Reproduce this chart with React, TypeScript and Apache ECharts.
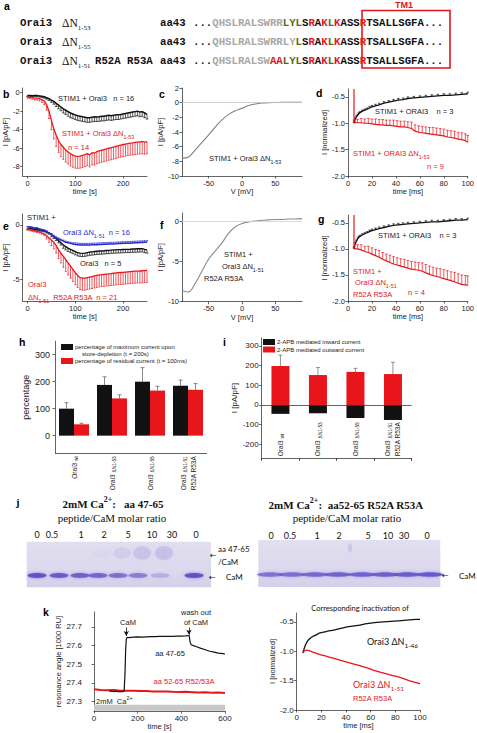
import React, { useEffect, useRef } from 'react';
import * as echarts from 'echarts';

// ---------------- DATA ----------------
// panel a: sequences (text, colour key)
const seqRow1 = [['...', 'k'], ['QHSLRALSWRR', 'g'], ['LYL', 'o'], ['S', 'k'], ['R', 'r'], ['A', 'k'], ['K', 'r'], ['L', 'o'], ['K', 'r'], ['ASS', 'k'], ['R', 'r'], ['TSALLSGFA...', 'k']];
const seqRow2 = [['...', 'k'], ['QHSLRALSWRRLY', 'g'], ['L', 'o'], ['S', 'k'], ['R', 'r'], ['A', 'k'], ['K', 'r'], ['L', 'o'], ['K', 'r'], ['ASS', 'k'], ['R', 'r'], ['TSALLSGFA...', 'k']];
const seqRow3 = [['...', 'k'], ['QHSLRALSW', 'g'], ['AA', 'r'], ['LYL', 'o'], ['S', 'k'], ['R', 'r'], ['A', 'k'], ['K', 'r'], ['L', 'o'], ['K', 'r'], ['ASS', 'k'], ['R', 'r'], ['TSALLSGFA...', 'k']];

// panel b / e: time course (s)
const bTime = [0, 5, 10, 15, 20, 25, 30, 35, 40, 45, 50, 55, 60, 65, 70, 75, 80, 85, 90, 95, 100, 105, 110, 115, 120, 125, 130, 135, 140, 145, 150, 155, 160, 165, 170, 175, 180, 185, 190, 195, 200, 205, 210, 215, 220, 225, 230, 235, 240, 245, 250];
const bOrai3 = [-0.30, -0.30, -0.33, -0.30, -0.32, -0.35, -0.40, -0.45, -0.55, -0.65, -0.80, -0.95, -1.15, -1.35, -1.55, -1.75, -1.90, -2.05, -2.20, -2.30, -2.40, -2.50, -2.55, -2.60, -2.65, -2.70, -2.70, -2.65, -2.60, -2.62, -2.60, -2.55, -2.55, -2.50, -2.45, -2.50, -2.45, -2.40, -2.40, -2.35, -2.30, -2.25, -2.20, -2.15, -2.10, -2.05, -2.00, -2.10, -2.05, -2.20, -2.35];
const bOrai3Err = [0.10, 0.10, 0.10, 0.10, 0.10, 0.12, 0.12, 0.15, 0.15, 0.20, 0.25, 0.30, 0.35, 0.40, 0.40, 0.45, 0.45, 0.50, 0.50, 0.50, 0.50, 0.50, 0.50, 0.50, 0.50, 0.50, 0.50, 0.50, 0.50, 0.50, 0.50, 0.50, 0.50, 0.50, 0.50, 0.50, 0.50, 0.50, 0.50, 0.50, 0.50, 0.50, 0.50, 0.50, 0.50, 0.50, 0.50, 0.50, 0.50, 0.50, 0.50];
const bDN53 = [-0.45, -0.50, -0.55, -0.60, -0.60, -0.65, -0.75, -0.90, -1.30, -2.00, -3.00, -3.90, -4.60, -5.20, -5.60, -5.90, -6.20, -6.40, -6.60, -6.75, -6.85, -6.88, -6.85, -6.78, -6.68, -6.58, -6.72, -6.48, -6.52, -6.38, -6.30, -6.22, -6.15, -6.08, -6.00, -5.95, -5.88, -5.80, -5.72, -5.66, -5.60, -5.55, -5.50, -5.45, -5.42, -5.38, -5.35, -5.32, -5.30, -5.35, -5.30];
const bDN53Err = [0.15, 0.15, 0.18, 0.20, 0.20, 0.25, 0.30, 0.40, 0.60, 0.80, 1.00, 1.10, 1.20, 1.25, 1.30, 1.30, 1.30, 1.30, 1.30, 1.30, 1.30, 1.30, 1.30, 1.30, 1.30, 1.30, 1.30, 1.30, 1.30, 1.30, 1.30, 1.30, 1.30, 1.30, 1.30, 1.30, 1.30, 1.30, 1.30, 1.30, 1.30, 1.30, 1.30, 1.30, 1.30, 1.30, 1.30, 1.30, 1.30, 1.30, 1.30];

const eDN51 = [-0.20, -0.20, -0.25, -0.30, -0.30, -0.40, -0.45, -0.50, -0.60, -0.75, -0.90, -1.05, -1.20, -1.30, -1.40, -1.50, -1.60, -1.65, -1.70, -1.75, -1.80, -1.82, -1.85, -1.85, -1.85, -1.85, -1.84, -1.83, -1.82, -1.82, -1.80, -1.80, -1.78, -1.78, -1.76, -1.75, -1.75, -1.74, -1.72, -1.72, -1.70, -1.70, -1.68, -1.68, -1.66, -1.65, -1.64, -1.63, -1.62, -1.60, -1.60];
const eDN51Err = [0.05, 0.05, 0.05, 0.05, 0.05, 0.05, 0.05, 0.05, 0.05, 0.05, 0.10, 0.10, 0.10, 0.10, 0.10, 0.10, 0.10, 0.10, 0.10, 0.10, 0.15, 0.15, 0.15, 0.15, 0.15, 0.15, 0.15, 0.15, 0.15, 0.15, 0.15, 0.15, 0.15, 0.15, 0.15, 0.15, 0.15, 0.15, 0.15, 0.15, 0.15, 0.15, 0.15, 0.15, 0.15, 0.15, 0.15, 0.15, 0.15, 0.15, 0.15];
const eOrai3 = [-0.30, -0.30, -0.35, -0.40, -0.40, -0.45, -0.50, -0.55, -0.65, -0.75, -0.90, -1.05, -1.25, -1.45, -1.65, -1.85, -2.00, -2.15, -2.25, -2.35, -2.45, -2.55, -2.60, -2.62, -2.60, -2.55, -2.50, -2.48, -2.45, -2.42, -2.40, -2.40, -2.38, -2.35, -2.35, -2.32, -2.30, -2.30, -2.28, -2.28, -2.26, -2.25, -2.25, -2.24, -2.22, -2.22, -2.20, -2.20, -2.18, -2.25, -2.30];
const eOrai3Err = [0.10, 0.10, 0.10, 0.10, 0.10, 0.10, 0.10, 0.10, 0.10, 0.10, 0.20, 0.20, 0.20, 0.20, 0.20, 0.30, 0.30, 0.30, 0.30, 0.30, 0.30, 0.30, 0.30, 0.30, 0.30, 0.30, 0.30, 0.30, 0.30, 0.30, 0.30, 0.30, 0.30, 0.30, 0.30, 0.30, 0.30, 0.30, 0.30, 0.30, 0.30, 0.30, 0.30, 0.30, 0.30, 0.30, 0.30, 0.30, 0.30, 0.30, 0.30];
const eMut = [-0.40, -0.45, -0.50, -0.55, -0.60, -0.65, -0.75, -0.85, -1.00, -1.20, -1.40, -1.60, -1.90, -2.30, -2.60, -2.90, -3.20, -3.50, -3.80, -4.10, -4.40, -4.65, -4.85, -4.90, -4.90, -4.85, -4.80, -4.75, -4.70, -4.65, -4.60, -4.58, -4.55, -4.52, -4.50, -4.48, -4.45, -4.42, -4.40, -4.38, -4.36, -4.34, -4.32, -4.30, -4.28, -4.26, -4.25, -4.24, -4.22, -4.20, -4.18];
const eMutErr = [0.10, 0.10, 0.10, 0.10, 0.10, 0.10, 0.10, 0.10, 0.30, 0.40, 0.50, 0.60, 0.70, 0.80, 0.90, 1.00, 1.10, 1.10, 1.10, 1.10, 1.10, 1.10, 1.10, 1.10, 1.10, 1.10, 1.10, 1.10, 1.10, 1.10, 1.10, 1.10, 1.10, 1.10, 1.10, 1.10, 1.10, 1.10, 1.10, 1.10, 1.10, 1.10, 1.10, 1.10, 1.10, 1.10, 1.10, 1.10, 1.10, 1.10, 1.10];

// panel c / f: I-V (mV)
const ivVolt = [-90, -80, -70, -60, -50, -40, -30, -20, -10, 0, 10, 20, 30, 40, 50, 60, 70, 80, 90];
const cCurrent = [-7.6, -7.4, -6.45, -5.4, -4.4, -3.3, -2.35, -1.6, -1.1, -0.77, -0.4, -0.18, -0.05, 0, 0.02, 0.05, 0.05, 0.05, 0.05];
const fCurrent = [-8.6, -8.8, -7.7, -6.2, -4.7, -3.7, -2.7, -1.5, -0.7, -0.3, -0.1, 0, 0.1, 0.15, 0.2, 0.2, 0.25, 0.25, 0.3];

// panel d / g: inactivation (ms)
const inactTimeWt = [5, 6, 7, 8, 9, 10, 12, 14, 16, 18, 20, 23, 26, 30, 34, 38, 42, 46, 50, 55, 60, 65, 70, 75, 80, 85, 90, 95, 100];
const dWt = [-1.00, -0.92, -0.88, -0.85, -0.82, -0.80, -0.77, -0.75, -0.73, -0.71, -0.69, -0.67, -0.65, -0.62, -0.60, -0.58, -0.56, -0.55, -0.53, -0.52, -0.51, -0.50, -0.49, -0.48, -0.47, -0.47, -0.46, -0.45, -0.44];
const gWt = [-1.00, -0.90, -0.85, -0.81, -0.78, -0.76, -0.73, -0.71, -0.69, -0.67, -0.65, -0.63, -0.61, -0.59, -0.57, -0.55, -0.54, -0.53, -0.52, -0.51, -0.50, -0.49, -0.48, -0.48, -0.47, -0.46, -0.45, -0.45, -0.44];
const wtErr = [0.02, 0.02, 0.02, 0.02, 0.02, 0.02, 0.02, 0.02, 0.02, 0.03, 0.03, 0.03, 0.03, 0.03, 0.03, 0.03, 0.03, 0.03, 0.03, 0.03, 0.03, 0.03, 0.03, 0.03, 0.03, 0.03, 0.03, 0.03, 0.03];
const inactTimeMut = [5, 8, 11, 14, 17, 20, 23, 26, 29, 32, 35, 38, 41, 44, 47, 50, 53, 56, 59, 62, 65, 68, 71, 74, 77, 80, 83, 86, 89, 92, 95, 98, 100];
const dDN53 = [-0.98, -0.99, -0.99, -1.00, -1.00, -1.01, -1.02, -1.03, -1.03, -1.04, -1.04, -1.05, -1.06, -1.07, -1.07, -1.08, -1.10, -1.15, -1.17, -1.18, -1.19, -1.20, -1.21, -1.22, -1.23, -1.24, -1.26, -1.27, -1.28, -1.30, -1.31, -1.33, -1.36];
const dDN53Err = [0.04, 0.06, 0.08, 0.08, 0.09, 0.09, 0.10, 0.10, 0.10, 0.10, 0.10, 0.11, 0.11, 0.11, 0.11, 0.11, 0.12, 0.12, 0.12, 0.12, 0.12, 0.12, 0.13, 0.13, 0.13, 0.13, 0.13, 0.13, 0.13, 0.13, 0.13, 0.13, 0.13];
const gMut = [-1.00, -1.00, -1.02, -1.05, -1.07, -1.10, -1.13, -1.16, -1.20, -1.23, -1.26, -1.29, -1.31, -1.33, -1.35, -1.37, -1.39, -1.40, -1.41, -1.43, -1.46, -1.49, -1.51, -1.53, -1.55, -1.57, -1.59, -1.61, -1.63, -1.66, -1.68, -1.69, -1.70];
const gMutErr = [0.04, 0.08, 0.10, 0.10, 0.12, 0.12, 0.12, 0.13, 0.13, 0.13, 0.14, 0.14, 0.14, 0.14, 0.15, 0.15, 0.15, 0.15, 0.15, 0.16, 0.16, 0.16, 0.16, 0.16, 0.17, 0.17, 0.17, 0.17, 0.18, 0.18, 0.18, 0.18, 0.18];

// panel h
const hGroups = ['Orai3 wt', 'Orai3 ΔN1-53', 'Orai3 ΔN1-55', 'Orai3 ΔN1-51 R52A R53A'];
const hMaxCurrent = [100, 188, 200, 185];
const hMaxCurrentErr = [22, 30, 52, 21];
const hResidual = [42, 138, 167, 170];
const hResidualErr = [4, 13, 16, 23];

// panel i
const iGroups = ['Orai3 wt', 'Orai3 ΔN1-53', 'Orai3 ΔN1-55', 'Orai3 ΔN1-51 R52A R53A'];
const iInward = [-45, -42, -66, -76];
const iOutward = [198, 152, 168, 157];
const iOutwardErr = [55, 38, 18, 60];

// panel j: gels
const molarRatios = ['0', '0.5', '1', '2', '5', '10', '30', '0'];
const gelLeftCaM = [1.0, 0.9, 0.85, 0.8, 0.72, 0.62, 0.28, 1.0];
const gelLeftComplex = [0, 0, 0, 0.1, 0.3, 0.45, 0.5, 0];
const gelRightCaM = [0.75, 0.8, 0.85, 0.9, 0.9, 0.92, 0.95, 1.0];

// panel k left: SPR
const sprTimeA = [70, 80, 90, 100, 110, 120, 130, 138, 142, 145, 148, 152, 160, 180, 200, 220, 240, 260, 280, 300, 320, 340, 360, 380, 400, 420, 430, 436, 440, 445, 455, 470, 490, 510, 530, 550, 570, 590, 600];
const sprA4765 = [27.355, 27.357, 27.354, 27.356, 27.353, 27.355, 27.354, 27.356, 27.45, 27.58, 27.635, 27.645, 27.643, 27.645, 27.647, 27.646, 27.647, 27.648, 27.648, 27.649, 27.649, 27.650, 27.650, 27.651, 27.651, 27.652, 27.653, 27.654, 27.62, 27.605, 27.600, 27.594, 27.585, 27.578, 27.570, 27.565, 27.560, 27.557, 27.555];
const sprTimeB = [0, 30, 60, 90, 120, 150, 180, 210, 240, 270, 300, 330, 360, 390, 420, 450, 480, 510, 540, 570, 600];
const sprA5265 = [27.366, 27.363, 27.361, 27.362, 27.359, 27.358, 27.359, 27.357, 27.357, 27.355, 27.354, 27.355, 27.353, 27.352, 27.353, 27.351, 27.349, 27.350, 27.348, 27.349, 27.347];

// panel k right
const kTimeWt = [5, 7, 9, 11, 13, 15, 19, 25, 30, 40, 50, 57, 70, 85, 97, 100];
const kDN46 = [-1.03, -0.90, -0.82, -0.78, -0.75, -0.73, -0.69, -0.66, -0.64, -0.59, -0.56, -0.53, -0.50, -0.48, -0.46, -0.46];
const kTimeMut = [5, 6, 8, 10, 15, 19, 25, 35, 45, 55, 62, 70, 81, 90, 100];
const kDN51 = [-1.03, -1.0, -0.98, -0.99, -1.03, -1.06, -1.09, -1.15, -1.21, -1.27, -1.32, -1.37, -1.43, -1.49, -1.55];

// ---------------- STYLE ----------------
const SANS = 'Liberation Sans, Arial, sans-serif';
const SERIF = 'Liberation Serif, Times New Roman, serif';
const MONO = 'Liberation Mono, Courier New, monospace';
const CAL = 'Lato, Open Sans, sans-serif';
const RED = '#e8161b';
const BLUE = '#2a2ad0';
const BLK = '#111111';
const AXC = '#3c3c3c';

const pairs = (xs: number[], ys: number[]) => xs.map((x, i) => [x, ys[i]]);

function vAxis(grid: number, min: number, max: number, ticks: number[], o: any = {}) {
  return {
    type: 'value', gridIndex: grid, min, max,
    name: o.name, nameLocation: 'middle', nameGap: o.gap ?? 12,
    nameTextStyle: { fontSize: o.nameSize ?? 7.5, fontFamily: o.nameFamily ?? SANS, color: '#222' },
    axisLine: { show: true, onZero: false, lineStyle: { color: AXC, width: 0.8 } },
    axisTick: { show: true, length: 2.5, customValues: ticks, lineStyle: { color: AXC, width: 0.8 } },
    axisLabel: { show: true, fontSize: o.size ?? 7.5, color: '#222', fontFamily: o.family ?? SANS, margin: o.margin ?? 3, customValues: ticks, formatter: o.fmt },
    splitLine: { show: false },
  };
}

function line(grid: number, xs: number[], ys: number[], color: string, w = 1.2, extra: any = {}) {
  return {
    type: 'line', xAxisIndex: grid, yAxisIndex: grid, data: pairs(xs, ys), symbol: 'none', showSymbol: false,
    lineStyle: { color, width: w }, itemStyle: { color }, z: 4, silent: true, ...extra,
  };
}

function errBars(grid: number, xs: any[], ys: number[], es: number[], color: string, dir: number, cap: number, off = 0, lw = 0.7) {
  return {
    type: 'custom', xAxisIndex: grid, yAxisIndex: grid, silent: true, z: 3,
    data: xs.map((x, i) => [x, ys[i], es[i]]),
    itemStyle: { color },
    renderItem: (_p: any, api: any) => {
      const x = api.value(0), y = api.value(1), e = api.value(2);
      const p0 = api.coord([x, y]);
      const p1 = api.coord([x, y + dir * e]);
      const px = p0[0] + off;
      return {
        type: 'group', children: [
          { type: 'line', shape: { x1: px, y1: p0[1], x2: px, y2: p1[1] }, style: { stroke: color, lineWidth: lw } },
          { type: 'line', shape: { x1: px - cap, y1: p1[1], x2: px + cap, y2: p1[1] }, style: { stroke: color, lineWidth: lw } },
        ],
      };
    },
  };
}

function T(x: number, y: number, text: string, o: any = {}) {
  return {
    type: 'text', x, y, rotation: o.rot || 0, silent: true, z: 50,
    style: {
      text, fill: o.color || '#1a1a1a', fontSize: o.size || 7.5, fontFamily: o.family || SANS,
      fontWeight: o.weight || 'normal', align: o.align || 'left', verticalAlign: o.va || 'middle',
      rich: o.rich,
    },
  };
}
function subRich(size: number, color: string, family = SANS, weight = 'normal') {
  return {
    m: { fontSize: size, fill: color, fontFamily: family, fontWeight: weight, lineHeight: size * 1.6 },
    s: { fontSize: size * 0.72, fill: color, fontFamily: family, fontWeight: weight, lineHeight: size * 0.8, verticalAlign: 'bottom' },
    p: { fontSize: size * 0.72, fill: color, fontFamily: family, fontWeight: weight, lineHeight: size * 0.8, verticalAlign: 'top' },
  };
}
const RT = (x: number, y: number, text: string, size: number, color: string, family = SANS, o: any = {}) =>
  T(x, y, text, { ...o, size, color, family, rich: subRich(size, color, family, o.weight || 'normal') });

// ---------------- OPTION ----------------
function buildOption() {
  const grids = [
    { left: 22.7, top: 88, width: 124.3, height: 88 },   // 0 b
    { left: 182, top: 88, width: 120, height: 88 },       // 1 c
    { left: 348, top: 89, width: 120, height: 87 },       // 2 d
    { left: 22.7, top: 214, width: 124.3, height: 87 },   // 3 e
    { left: 182, top: 213, width: 120, height: 88.7 },    // 4 f
    { left: 348, top: 215, width: 120, height: 86 },      // 5 g
    { left: 55, top: 341.2, width: 152, height: 112 },    // 6 h
    { left: 261.7, top: 338, width: 150, height: 120.2 }, // 7 i
    { left: 94, top: 612, width: 131, height: 99 },       // 8 k left
    { left: 296.7, top: 613, width: 123.3, height: 97 },  // 9 k right
  ];
  const f1 = (v: number) => v.toFixed(1);
  const hLabelRich = {
    a: { fontSize: 6.5, fontFamily: SANS, color: '#222', lineHeight: 10 },
    s: { fontSize: 4.8, fontFamily: SANS, color: '#222', lineHeight: 5, verticalAlign: 'bottom' },
  };
  const grpLabel = (v: string) => {
    const m = v.match(/^Orai3 (wt|ΔN)([0-9-]*)\s?(.*)$/);
    if (!m) return v;
    if (m[1] === 'wt') return '{a|Orai3 }{s|wt}';
    return '{a|Orai3 }{s|ΔN' + m[2] + '}' + (m[3] ? '\n{a|' + m[3] + '}' : '');
  };

  const xAxis: any[] = [
    vAxis(0, -10, 250, [0, 100, 200], { name: 'time [s]', gap: 11 }),
    vAxis(1, -90, 90, [-50, 0, 50], { name: 'V [mV]', gap: 11 }),
    vAxis(2, 0, 100, [0, 20, 40, 60, 80, 100], { name: 'time [ms]', gap: 10 }),
    vAxis(3, -10, 250, [0, 100, 200], { name: 'time [s]', gap: 11 }),
    vAxis(4, -90, 90, [-50, 0, 50], { name: 'V [mV]', gap: 11 }),
    vAxis(5, 0, 100, [0, 20, 40, 60, 80, 100], { name: 'time [ms]', gap: 10 }),
    {
      type: 'category', gridIndex: 6, data: hGroups,
      axisLine: { show: false, onZero: true }, axisTick: { show: false },
      axisLabel: { rotate: 90, margin: 3, formatter: grpLabel, rich: hLabelRich, interval: 0 },
    },
    {
      type: 'category', gridIndex: 7, data: iGroups,
      axisLine: { show: true, onZero: false, lineStyle: { color: AXC, width: 0.8 } }, axisTick: { show: true, length: 2.5, lineStyle: { color: AXC } },
      axisLabel: { rotate: 90, inside: true, margin: 2, formatter: grpLabel, rich: hLabelRich, interval: 0 },
    },
    vAxis(8, 0, 600, [0, 200, 400, 600], { name: 'time [s]', gap: 11, size: 8 }),
    vAxis(9, 0, 100, [0, 20, 40, 60, 80, 100], { name: 'time [ms]', gap: 11, size: 8 }),
  ];
  const yAxis: any[] = [
    vAxis(0, -9, 0.5, [0, -2, -4, -6, -8], { name: 'I [pA/pF]', gap: 12 }),
    vAxis(1, -10, 2, [2, 0, -2, -4, -6, -8, -10], { name: 'I [pA/pF]', gap: 12 }),
    vAxis(2, -2, -0.35, [-0.5, -1, -1.5, -2], { name: 'I [normalized]', gap: 16, fmt: f1 }),
    vAxis(3, -7, 1, [0, -5], { name: 'I [pA/pF]', gap: 12 }),
    vAxis(4, -10, 1, [0, -5, -10], { name: 'I [pA/pF]', gap: 12 }),
    vAxis(5, -2, -0.35, [-0.5, -1, -1.5, -2], { name: 'I [normalized]', gap: 16, fmt: f1 }),
    vAxis(6, -65, 350, [0, 100, 200, 300], { name: 'percentage', gap: 25, size: 9, nameSize: 9, margin: 5 }),
    vAxis(7, -270, 340, [300, 200, 100, 0, -100, -200], { name: 'I [pA/pF]', gap: 20, size: 8, nameSize: 8 }),
    vAxis(8, 27.25, 27.78, [27.3, 27.4, 27.5, 27.6, 27.7], { name: 'resonance angle [1000 RU]', gap: 22, size: 8, fmt: f1, margin: 12 }),
    vAxis(9, -2, -0.35, [-0.5, -1, -1.5, -2], { name: 'I [normalized]', gap: 18, size: 8, fmt: f1 }),
  ];

  const series: any[] = [
    // b
    errBars(0, bTime, bOrai3, bOrai3Err, BLK, -1, 1.4),
    line(0, bTime, bOrai3, BLK, 1.5),
    errBars(0, bTime, bDN53, bDN53Err, RED, -1, 1.0),
    line(0, bTime, bDN53, RED, 1.3),
    // c
    line(1, ivVolt, cCurrent, '#808080', 1.1, {
      smooth: 0.3,
      markLine: { silent: true, symbol: 'none', label: { show: false }, lineStyle: { color: '#c4c4c4', width: 0.8, type: 'solid' }, data: [{ yAxis: 0 }] },
    }),
    // d
    errBars(2, inactTimeWt, dWt, wtErr, BLK, 1, 1.2),
    line(2, inactTimeWt, dWt, BLK, 1.3),
    errBars(2, inactTimeMut, dDN53, dDN53Err, RED, 1, 1.4),
    line(2, [5].concat(inactTimeMut), [-0.35].concat(dDN53), RED, 1.2),
    // e
    errBars(3, bTime, eOrai3, eOrai3Err, BLK, -1, 1.4),
    line(3, bTime, eOrai3, BLK, 1.4),
    errBars(3, bTime, eDN51, eDN51Err, BLUE, 1, 1.2),
    line(3, bTime, eDN51, BLUE, 1.5),
    errBars(3, bTime, eMut, eMutErr, RED, -1, 1.0),
    line(3, bTime, eMut, RED, 1.3),
    // f
    line(4, ivVolt, fCurrent, '#8a8a8a', 1.1, {
      smooth: 0.3,
      markLine: { silent: true, symbol: 'none', label: { show: false }, lineStyle: { color: '#d0d0d0', width: 0.8, type: 'solid' }, data: [{ yAxis: 0 }] },
    }),
    // g
    errBars(5, inactTimeWt, gWt, wtErr, BLK, 1, 1.2),
    line(5, inactTimeWt, gWt, BLK, 1.3),
    errBars(5, inactTimeMut, gMut, gMutErr, RED, 1, 1.4),
    line(5, [5].concat(inactTimeMut), [-0.35].concat(gMut), RED, 1.2),
    // h
    {
      type: 'bar', name: 'percentage of maximum current upon', xAxisIndex: 6, yAxisIndex: 6, data: hMaxCurrent,
      barWidth: 15, barGap: '0%', itemStyle: { color: BLK }, silent: true,
      markLine: { silent: true, symbol: 'none', label: { show: false }, lineStyle: { color: AXC, width: 0.8, type: 'solid' }, data: [{ yAxis: -65 }] },
    },
    { type: 'bar', name: 'percentage of residual current (t = 100ms)', xAxisIndex: 6, yAxisIndex: 6, data: hResidual, barWidth: 15, barGap: '0%', itemStyle: { color: RED }, silent: true },
    errBars(6, [0, 1, 2, 3], hMaxCurrent, hMaxCurrentErr, '#555', 1, 2, -7.5),
    errBars(6, [0, 1, 2, 3], hResidual, hResidualErr, '#555', 1, 2, 7.5),
    // i
    {
      type: 'bar', name: '2-APB mediated outward current', xAxisIndex: 7, yAxisIndex: 7, data: iOutward, barWidth: 18, barGap: '-100%', itemStyle: { color: RED }, silent: true,
      markLine: { silent: true, symbol: 'none', label: { show: false }, lineStyle: { color: AXC, width: 0.8, type: 'solid' }, data: [{ yAxis: 0 }] },
    },
    { type: 'bar', name: '2-APB mediated inward current', xAxisIndex: 7, yAxisIndex: 7, data: iInward, barWidth: 18, barGap: '-100%', itemStyle: { color: BLK }, silent: true },
    errBars(7, [0, 1, 2, 3], iOutward, iOutwardErr, '#666', 1, 2),
    // k left
    line(8, sprTimeB, sprA5265, RED, 2.0, {
      markArea: { silent: true, itemStyle: { color: '#c8c8c8' }, data: [[{ xAxis: 0, yAxis: 27.252 }, { xAxis: 600, yAxis: 27.284 }]] },
    }),
    line(8, sprTimeA, sprA4765, BLK, 1.2, {
      markLine: {
        silent: true, symbol: ['none', 'arrow'], symbolSize: [4, 5], label: { show: false },
        lineStyle: { color: BLK, width: 0.8, type: 'solid' },
        data: [
          [{ coord: [148, 27.697] }, { coord: [148, 27.652] }],
          [{ coord: [435, 27.697] }, { coord: [435, 27.658] }],
        ],
      },
    }),
    // k right
    line(9, kTimeWt, kDN46, BLK, 1.3, { smooth: 0.3 }),
    line(9, kTimeMut, kDN51, RED, 1.3, { smooth: 0.3 }),
  ];

  // ---- graphics ----
  const g: any[] = [];
  // panel letters
  const L = (x: number, y: number, t: string, fam = SANS) => T(x, y, t, { size: 10.5, weight: 'bold', family: fam, color: '#000' });
  g.push(L(4, 6, 'a'), L(3, 94, 'b'), L(159, 94, 'c'), L(316, 93, 'd'), L(3, 226, 'e'), L(160, 225, 'f'), L(318, 219, 'g'),
    L(19, 342, 'h'), L(223, 342, 'i'), L(16, 502, 'j', SERIF), L(43, 612, 'k'));

  // panel a
  const seqRich = {
    k: { fontSize: 10.7, fontFamily: MONO, fontWeight: 'bold', fill: '#111' },
    g: { fontSize: 10.7, fontFamily: MONO, fontWeight: 'bold', fill: '#a8a8a8' },
    o: { fontSize: 10.7, fontFamily: MONO, fontWeight: 'bold', fill: '#55691c' },
    r: { fontSize: 10.7, fontFamily: MONO, fontWeight: 'bold', fill: '#e3161b' },
  };
  const seqText = (row: string[][]) => row.map(([t, c]) => '{' + c + '|' + t + '}').join('');
  const rowsY = [23, 42, 61];
  const rowNames = [['1-53', ''], ['1-55', ''], ['1-51', 'R52A R53A']];
  [seqRow1, seqRow2, seqRow3].forEach((row, i) => {
    const y = rowsY[i];
    g.push(T(20, y, 'Orai3', { size: 10.7, family: MONO, weight: 'bold', color: '#111' }));
    g.push(T(62, y, '{d|ΔN}{s|' + rowNames[i][0] + '}', {
      rich: {
        d: { fontSize: 11.5, fontFamily: SERIF, fill: '#111', lineHeight: 16 },
        s: { fontSize: 7, fontFamily: SERIF, fill: '#111', lineHeight: 7, verticalAlign: 'bottom' },
      },
    }));
    if (rowNames[i][1]) g.push(T(95, y, rowNames[i][1], { size: 10.7, family: MONO, weight: 'bold', color: '#111' }));
    g.push(T(160, y, 'aa43', { size: 10.7, family: MONO, weight: 'bold', color: '#111' }));
    g.push(T(193, y, seqText(row), { rich: seqRich }));
  });
  g.push({ type: 'rect', silent: true, shape: { x: 362, y: 10.5, width: 88, height: 57.5 }, style: { fill: 'none', stroke: '#e3161b', lineWidth: 1.6 } });
  g.push(T(404, 4.5, 'TM1', { size: 9, weight: 'bold', color: '#e3161b', align: 'center' }));

  // panel b
  g.push(T(58, 98.5, 'STIM1 + Orai3   n = 16', { size: 7.5, color: '#222' }));
  g.push(RT(62, 133, '{m|STIM1 + Orai3 ΔN}{s|1-53}', 7.5, RED));
  g.push(T(68, 147, 'n = 14', { size: 7.5, color: RED }));
  // panel c
  g.push(RT(209, 158, '{m|STIM1 + Orai3 ΔN}{s|1-53}', 7.5, '#222'));
  // panel d
  g.push(T(375, 111, 'STIM1 + ORAI3    n = 3', { size: 7.5, color: '#222' }));
  g.push(RT(353, 153, '{m|STIM1 + ORAI3 ΔN}{s|1-53}', 7.5, RED));
  g.push(T(427, 166, 'n = 9', { size: 7.5, color: RED }));
  // panel e
  g.push(T(27, 217, 'STIM1 +', { size: 7.5, color: '#222' }));
  g.push(RT(63, 232, '{m|Orai3 ΔN}{s|1-51}{m|  n = 16}', 7.5, BLUE));
  g.push(T(80, 263, 'Orai3   n = 5', { size: 7.5, color: '#222' }));
  g.push(T(28, 284, 'Orai3', { size: 7.5, color: RED }));
  g.push(RT(28, 297, '{m|ΔN}{s|1-51}{m|  R52A R53A  n = 21}', 7.5, RED));
  // panel f
  g.push(T(224, 254, 'STIM1 +', { size: 7.5, color: '#222' }));
  g.push(RT(222, 266, '{m|Orai3 ΔN}{s|1-51}', 7.5, '#222'));
  g.push(T(204, 278, 'R52A R53A', { size: 7.5, color: '#222' }));
  // panel g
  g.push(T(378, 235, 'STIM1 + ORAI3    n = 3', { size: 7.5, color: '#222' }));
  g.push(T(353, 271, 'STIM1 +', { size: 7.5, color: RED }));
  g.push(RT(355, 282, '{m|Orai3 ΔN}{s|1-51}', 7.5, RED));
  g.push(T(353, 294, 'R52A R53A', { size: 7.5, color: RED }));
  g.push(T(408, 292, 'n = 4', { size: 7.5, color: RED }));
  // panel h second legend line
  g.push(T(82, 354, 'store-depletion (t = 200s)', { size: 6, color: '#222' }));

  // panel j gels
  const leftLaneLabelX = [37, 52, 81, 104, 128, 152, 172, 196];
  const leftBandX = [37, 59, 80, 98, 118, 138, 160, 194];
  const rightLaneLabelX = [271, 290, 317, 339, 368, 388, 404, 427];
  const rightBandX = [270, 292, 315, 338, 362, 385, 407, 430];
  g.push(RT(113, 504, '{m|2mM Ca}{p|2+}{m|:   aa 47-65}', 11, '#111', SERIF, { weight: 'bold', align: 'center' }));
  g.push(T(112, 518, 'peptide/CaM molar ratio', { size: 11, family: SERIF, color: '#111', align: 'center' }));
  g.push(RT(346, 505, '{m|2mM Ca}{p|2+}{m|:  aa52-65 R52A R53A}', 11, '#111', SERIF, { weight: 'bold', align: 'center' }));
  g.push(T(347, 517.5, 'peptide/CaM molar ratio', { size: 11, family: SERIF, color: '#111', align: 'center' }));
  molarRatios.forEach((r, i) => {
    g.push(T(leftLaneLabelX[i], 534, r, { size: 9, family: CAL, color: '#111', align: 'center' }));
    g.push(T(rightLaneLabelX[i], 535, r, { size: 9, family: CAL, color: '#111', align: 'center' }));
  });
  const gelBg = () => new echarts.graphic.LinearGradient(0, 0, 0, 1, [
    { offset: 0, color: '#e2dff0' }, { offset: 0.6, color: '#dcd8ee' }, { offset: 1, color: '#d4d0ea' },
  ]);
  g.push({ type: 'rect', silent: true, shape: { x: 26.7, y: 541.7, width: 184.3, height: 45.5 }, style: { fill: gelBg() } });
  g.push({ type: 'rect', silent: true, shape: { x: 258.3, y: 540, width: 182, height: 47 }, style: { fill: gelBg() } });
  molarRatios.forEach((_r, i) => {
    const a = gelLeftCaM[i];
    g.push({ type: 'ellipse', silent: true, shape: { cx: leftBandX[i], cy: 575.5, rx: 9.5, ry: 2.4 }, style: { fill: `rgba(84,72,200,${0.85 * a})`, shadowBlur: 3, shadowColor: `rgba(84,72,200,${0.7 * a})` } });
    const c = gelLeftComplex[i];
    if (c > 0) g.push({ type: 'ellipse', silent: true, shape: { cx: leftBandX[i] + 4, cy: 553, rx: 9, ry: 4 + c * 6 }, style: { fill: `rgba(150,132,215,${0.55 * c})`, shadowBlur: 6, shadowColor: `rgba(150,132,215,${0.6 * c})` } });
    const b = gelRightCaM[i];
    g.push({ type: 'ellipse', silent: true, shape: { cx: rightBandX[i], cy: 574.5, rx: 13, ry: 2.3 }, style: { fill: `rgba(84,72,200,${0.8 * b})`, shadowBlur: 3, shadowColor: `rgba(84,72,200,${0.6 * b})` } });
  });
  g.push({ type: 'ellipse', silent: true, shape: { cx: 350, cy: 548, rx: 2, ry: 5 }, style: { fill: 'rgba(190,150,220,0.35)' } });
  g.push(T(218, 549, 'aa 47-65', { size: 8, family: CAL, color: '#111' }));
  g.push(T(210, 555.5, '←', { size: 8, family: 'DejaVu Sans', color: '#111' }));
  g.push(T(218, 561.5, '/CaM', { size: 8, family: CAL, color: '#111' }));
  g.push(T(209, 577, '←', { size: 8, family: 'DejaVu Sans', color: '#111' }));
  g.push(T(226, 577, 'CaM', { size: 8, family: CAL, color: '#111' }));
  g.push(T(442, 575.5, '←', { size: 8, family: 'DejaVu Sans', color: '#111' }));
  g.push(T(459, 575.5, 'CaM', { size: 8, family: CAL, color: '#111' }));

  // panel k left annotations
  g.push(T(128, 622.5, 'CaM', { size: 7.5, color: '#222', align: 'center' }));
  g.push(T(196, 612, 'wash out', { size: 7.5, color: '#222', align: 'center' }));
  g.push(T(196, 622.5, 'of CaM', { size: 7.5, color: '#222', align: 'center' }));
  g.push(T(170, 653.5, 'aa 47-65', { size: 7.5, color: '#222', align: 'center' }));
  g.push(T(184, 681, 'aa 52-65 R52/53A', { size: 7.5, color: RED, align: 'center' }));
  g.push(RT(96, 701.5, '{m|2mM  Ca}{p|2+}', 7.5, '#222'));
  // panel k right annotations
  g.push(T(360, 608.5, 'Corresponding inactivation of', { size: 7.5, family: CAL, color: '#111', align: 'center' }));
  g.push(RT(367, 641, '{m|Orai3 ΔN}{s|1-46}', 9, '#111', CAL));
  g.push(RT(353, 684.5, '{m|Orai3 ΔN}{s|1-51}', 9, RED, CAL));
  g.push(T(353, 698.5, 'R52A R53A', { size: 7.5, color: RED }));

  const legendBase = {
    orient: 'vertical', icon: 'rect', itemWidth: 12, itemHeight: 6, selectedMode: false, padding: 0,
    textStyle: { fontSize: 6, fontFamily: SANS, color: '#222', padding: [0, 0, 0, -3] },
  };
  const legend = [
    { ...legendBase, left: 61, top: 344, itemGap: 8, data: ['percentage of maximum current upon', 'percentage of residual current (t = 100ms)'] },
    { ...legendBase, left: 263, top: 339, itemGap: 1.5, data: ['2-APB mediated inward current', '2-APB mediated outward current'] },
  ];

  return {
    animation: false,
    backgroundColor: '#ffffff',
    textStyle: { fontFamily: SANS },
    grid: grids.map((gg) => ({ ...gg, containLabel: false })),
    xAxis, yAxis, series, legend, graphic: g,
  };
}

export default function App() {
  const ref = useRef<HTMLDivElement>(null);
  useEffect(() => {
    const chart = echarts.init(ref.current as HTMLDivElement, null, { renderer: 'svg', width: 477, height: 733 });
    chart.setOption(buildOption() as any);
    return () => chart.dispose();
  }, []);
  return <div ref={ref} style={{ position: 'fixed', left: 0, top: 0, width: 477, height: 733, background: '#fff' }} />;
}
